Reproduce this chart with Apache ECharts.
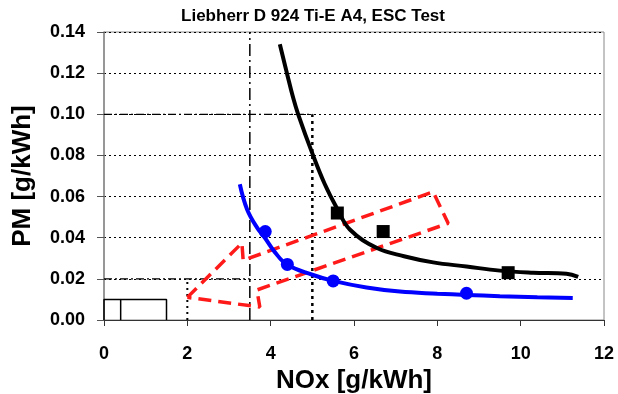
<!DOCTYPE html>
<html>
<head>
    <meta charset="utf-8">
    <title>Liebherr D 924 Ti-E A4, ESC Test</title>
    <script src="https://cdn.jsdelivr.net/npm/echarts@6/dist/echarts.min.js"></script>
    <style>
        html, body { margin: 0; padding: 0; background: #fff; }
        #main { width: 618px; height: 394px; }
    </style>
</head>
<body>
    <div id="main"></div>
    <script>
        // 黑色曲线（Liebherr 趋势线）
        const blackCurve = [
            [4.22, 0.134], [4.39, 0.120], [4.54, 0.108], [4.66, 0.100], [5.0, 0.081],
            [5.3, 0.066], [5.6, 0.054], [5.9, 0.044], [6.55, 0.035], [7.2, 0.031],
            [7.9, 0.028], [8.7, 0.026], [9.5, 0.024], [10.3, 0.023], [11.1, 0.0225],
            [11.38, 0.021]
        ];
        // 黑色方块测点
        const blackPoints = [[5.6, 0.052], [6.7, 0.043], [9.7, 0.023]];

        // 蓝色曲线
        const blueCurve = [
            [3.26, 0.066], [3.43, 0.054], [3.67, 0.045], [3.86, 0.040], [4.1, 0.033],
            [4.39, 0.027], [5.0, 0.022], [5.5, 0.019], [6.3, 0.0158], [7.1, 0.0138],
            [8.0, 0.0128], [8.7, 0.0122], [9.5, 0.0116], [10.4, 0.0111], [11.25, 0.0107]
        ];
        // 蓝色圆点测点
        const bluePoints = [[3.87, 0.043], [4.4, 0.027], [5.5, 0.019], [8.7, 0.013]];

        // 红色虚线箭头
        const redArrow = [
            [2.0, 0.011], [3.31, 0.0374], [3.34, 0.029], [7.9, 0.0623],
            [8.26, 0.047], [3.67, 0.0146], [3.74, 0.0063], [2.0, 0.011]
        ];

        // 左下角小方框
        const boxOutline = [[0, 0], [0, 0.01], [1.5, 0.01], [1.5, 0]];
        const boxDivider = [[0.4, 0], [0.4, 0.01]];

        // 参考线
        const dashDotV = [[3.5, 0], [3.5, 0.14]];
        const dashDotH10 = [[0, 0.10], [5, 0.10]];
        const dashDotH02 = [[0, 0.02], [3.5, 0.02]];
        const dottedV5 = [[5, 0], [5, 0.10]];
        const dottedV2 = [[2, 0], [2, 0.02]];

        const xTicks = [0, 2, 4, 6, 8, 10, 12];
        const yTicks = [0, 0.02, 0.04, 0.06, 0.08, 0.10, 0.12, 0.14];

        const chart = echarts.init(document.getElementById('main'));

        const refLine = (data, dash, width) => ({
            type: 'line',
            data: data,
            showSymbol: false,
            silent: true,
            lineStyle: { color: '#000', width: width, type: dash },
            z: 1
        });

        const option = {
            animation: false,
            textStyle: { fontFamily: 'Liberation Sans, Arial, sans-serif' },
            title: {
                text: 'Liebherr D 924 Ti-E A4, ESC Test',
                left: 308,
                textAlign: 'center',
                top: 3,
                textStyle: { fontSize: 17, fontWeight: 'bold', color: '#000' }
            },
            grid: {
                left: 104, right: 14, top: 32, bottom: 74,
                outerBoundsMode: 'none',
                show: true, borderColor: '#888', borderWidth: 1
            },
            xAxis: {
                type: 'value',
                min: xTicks[0],
                max: xTicks[xTicks.length - 1],
                interval: 2,
                name: 'NOx [g/kWh]',
                nameLocation: 'middle',
                nameGap: 43,
                nameTextStyle: { fontSize: 26, fontWeight: 'bold', color: '#000' },
                axisLine: { lineStyle: { color: '#333', width: 1 } },
                axisTick: { inside: false, length: 6, lineStyle: { color: '#333' } },
                axisLabel: { fontSize: 18, fontWeight: 'bold', color: '#000', margin: 25 },
                splitLine: { show: false }
            },
            yAxis: {
                type: 'value',
                min: yTicks[0],
                max: yTicks[yTicks.length - 1],
                interval: 0.02,
                name: 'PM [g/kWh]',
                nameLocation: 'middle',
                nameGap: 68,
                nameTextStyle: { fontSize: 26, fontWeight: 'bold', color: '#000' },
                axisLine: { lineStyle: { color: '#888', width: 1.5 } },
                axisTick: { inside: false, length: 7, lineStyle: { color: '#555' } },
                axisLabel: {
                    fontSize: 18, fontWeight: 'bold', color: '#000', margin: 19,
                    formatter: v => v.toFixed(2)
                },
                splitLine: { show: true, lineStyle: { color: '#000', width: 1, type: [2, 3] } }
            },
            series: [
                refLine(dashDotV, [12, 4, 2, 4], 1.5),
                refLine(dashDotH10, [8, 3, 2, 3], 1.2),
                refLine(dashDotH02, [8, 3, 2, 3], 1.2),
                refLine(dottedV5, [3, 4], 2.5),
                refLine(dottedV2, [2, 4], 2),
                refLine(boxOutline, 'solid', 1.5),
                refLine(boxDivider, 'solid', 1.5),
                {
                    type: 'line',
                    data: redArrow,
                    showSymbol: false,
                    silent: true,
                    lineStyle: { color: '#ff1a1a', width: 3.5, type: [13, 7] },
                    z: 2
                },
                {
                    type: 'line',
                    data: blackCurve,
                    smooth: 0.4,
                    showSymbol: false,
                    lineStyle: { color: '#000', width: 4 },
                    z: 3
                },
                {
                    type: 'line',
                    data: blueCurve,
                    smooth: 0.4,
                    showSymbol: false,
                    lineStyle: { color: '#0000ff', width: 4 },
                    z: 3
                },
                {
                    type: 'scatter',
                    data: blackPoints,
                    symbol: 'rect',
                    symbolSize: 13,
                    itemStyle: { color: '#000', opacity: 1 },
                    z: 4
                },
                {
                    type: 'scatter',
                    data: bluePoints,
                    symbol: 'circle',
                    symbolSize: 13,
                    itemStyle: { color: '#0000ff', opacity: 1 },
                    z: 4
                }
            ]
        };

        chart.setOption(option);
    </script>
</body>
</html>
